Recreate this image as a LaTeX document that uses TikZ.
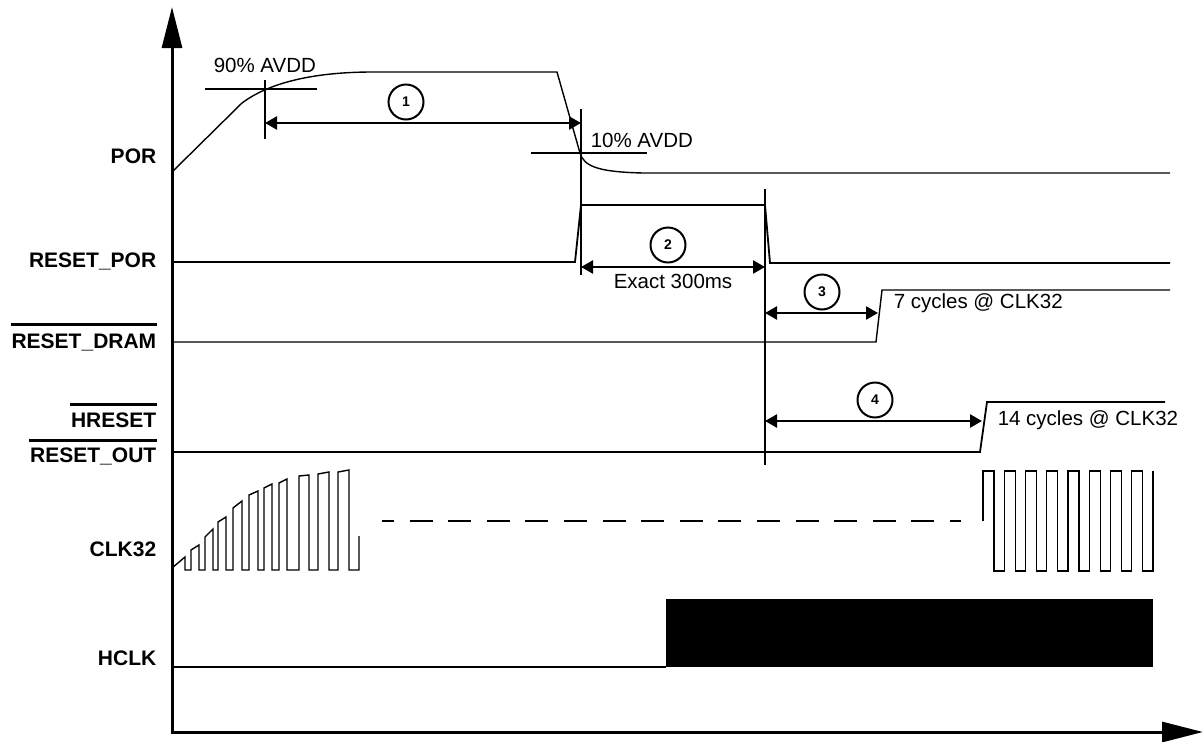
\documentclass[tikz,border=0pt]{standalone}
\usepackage{fontspec}
\setmainfont{Liberation Sans}
\usetikzlibrary{arrows.meta,positioning,calc}
\tikzset{every picture/.style={line width=1.5pt}}
\tikzset{
    sig/.style={line width=1.8pt},
    thinsig/.style={line width=1.4pt},
    axis/.style={line width=3pt, -{Triangle[length=41pt,width=20pt]}},
    dim/.style={line width=2.4pt, {Triangle[length=12pt,width=13pt]}-{Triangle[length=12pt,width=13pt]}},
    marker/.style={line width=2pt},
    sigbar/.style={line width=3pt},
    signame/.style={anchor=base east, inner sep=0pt, font=\fontsize{21}{24}\selectfont\bfseries},
    note/.style={anchor=base west, inner sep=0pt, font=\fontsize{20.5}{24}\selectfont},
    stepnum/.style={circle, draw, line width=2pt, minimum size=35pt, inner sep=0pt, font=\fontsize{14}{16}\selectfont\bfseries},
}

\begin{document}
\begin{tikzpicture}[x=1pt, y=-1pt]
    \useasboundingbox (0,0) rectangle (1203,742);

    % axes
    \draw[axis] (172,733.5) -- (172,7);
    \draw[axis] (172,732) -- (1203,732);

    % signal names
    \node[signame] (por) at (157,163) {POR};
    \node[signame] (rpor) at (157,267) {RESET\_POR};
    \node[signame] (rdram) at (157,348) {RESET\_DRAM};
    \node[signame] (hrst) at (157,427) {HRESET};
    \node[signame] (rout) at (157,462) {RESET\_OUT};
    \node[signame] (clk) at (157,556) {CLK32};
    \node[signame] (hclk) at (157,665) {HCLK};
    \draw[sigbar] ([yshift=8pt]rdram.north west) -- ([yshift=8pt]rdram.north east);
    \draw[sigbar] ([yshift=7pt]hrst.north west) -- ([yshift=7pt]hrst.north east);
    \draw[sigbar] ([yshift=6pt]rout.north west) -- ([yshift=6pt]rout.north east);

    % POR
    \draw[thinsig] (172,172) -- (242,103) .. controls (262,88) and (300,72) .. (373,72)
        -- (557,72) -- (580,153) .. controls (584,167) and (600,172) .. (643,173) -- (1170,173);
    \draw[marker] (205,89) -- (317,89);
    \draw[marker] (265,80) -- (265,139);
    \draw[marker] (531,153) -- (647,153);
    \node[note] (p90) at (213,72) {90\% AVDD};
    \node[note] (p10) at (590,147) {10\% AVDD};

    % RESET_POR, RESET_DRAM, RESET_OUT
    \draw[sig] (172,262) -- (575,262) -- (581,205) -- (765,205) -- (770,263) -- (1170,263);
    \draw[thinsig] (172,342) -- (876,342) -- (882,290) -- (1170,290);
    \draw[sig] (172,452) -- (980,452) -- (987,402) -- (1165,402);
    \draw[marker] (581,109) -- (581,275);
    \draw[marker] (765,189) -- (765,465);

    % timing marks
    \coordinate (a1) at (265,123);
    \coordinate (b1) at (581,123);
    \coordinate (a2) at (581,267);
    \coordinate (b2) at (765,267);
    \coordinate (a3) at (765,313);
    \coordinate (b3) at (878,313);
    \coordinate (a4) at (765,421);
    \coordinate (b4) at (982,421);
    \draw[dim] (a1) -- (b1);
    \draw[dim] (a2) -- (b2);
    \draw[dim] (a3) -- (b3);
    \draw[dim] (a4) -- (b4);
    \node[stepnum] (s1) at (406,102) {1};
    \node[stepnum] (s2) at (668,245) {2};
    \node[stepnum] (s3) at (822,292) {3};
    \node[stepnum] (s4) at (875,400) {4};
    \node[note] (t2) at (613,288) {Exact 300ms};
    \node[note] (t3) at (893,308) {7 cycles @ CLK32};
    \node[note] (t4) at (997,425) {14 cycles @ CLK32};

    % CLK32
    \draw[thinsig] (172,568) -- (185,557) -- (185,570)
        \foreach \xu/\tu/\xd/\td in {191/550/199/545, 205/537/213/529, 218/522/226/517,
            233/508/242/501, 249/495/258/491, 264/488/272/484, 279/483/287/479,
            299/476/309/475, 318/474/329/472, 338/472/349/470}
        { -- (\xu,570) -- (\xu,\tu) -- (\xd,\td) -- (\xd,570) }
        -- (359,570) -- (359,536);
    \draw[line width=2.5pt, dash pattern=on 23pt off 15.6pt, dash phase=11pt] (382,521) -- (961,521);
    \draw[thinsig] (983,521) -- (983,471)
        \foreach \k in {0,...,7}
        { -- ({994+21.25*\k},471) -- ({994+21.25*\k},571) -- ({1004.25+21.25*\k},571) -- ({1004.25+21.25*\k},471) };

    % HCLK
    \draw[thinsig] (172,667) -- (666,667);
    \fill (666,599) rectangle (1153,667);
\end{tikzpicture}
\end{document}
